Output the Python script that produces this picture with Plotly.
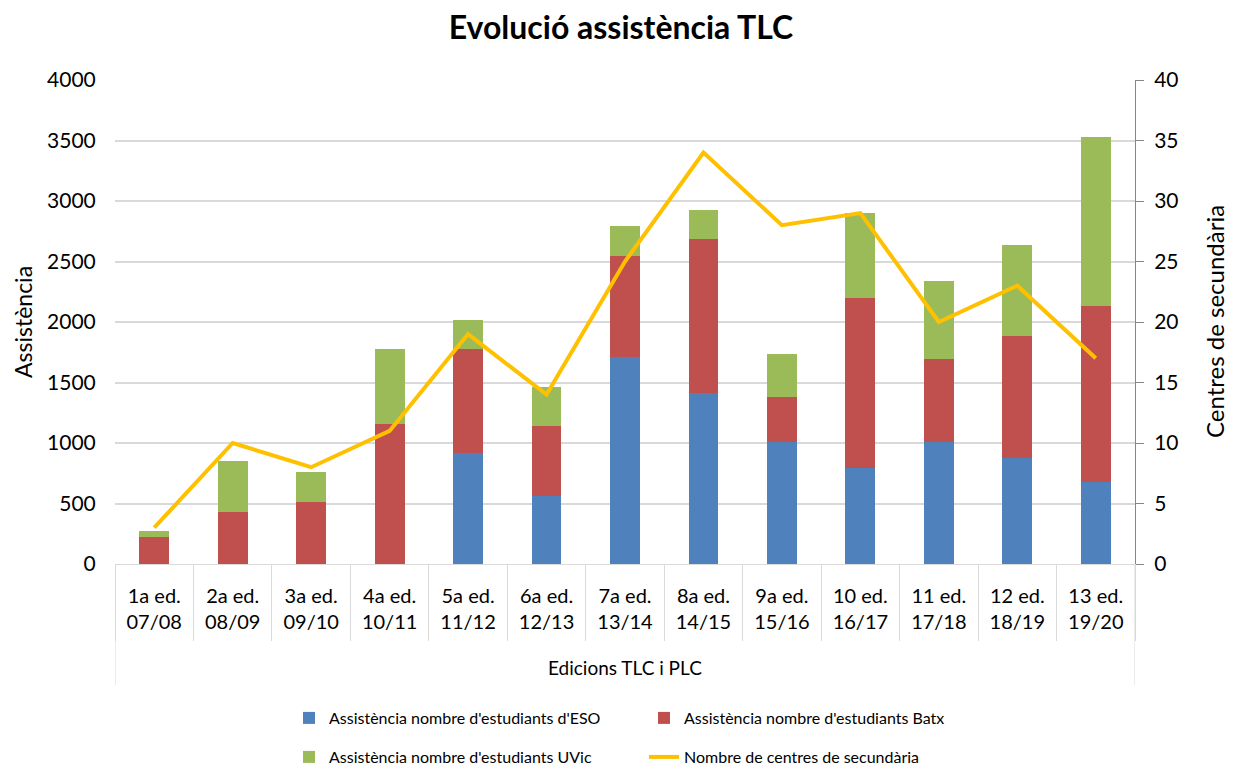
import plotly.graph_objects as go

categories = ["1a ed.<br>07/08", "2a ed.<br>08/09", "3a ed.<br>09/10", "4a ed.<br>10/11",
              "5a ed.<br>11/12", "6a ed.<br>12/13", "7a ed.<br>13/14", "8a ed.<br>14/15",
              "9a ed.<br>15/16", "10 ed.<br>16/17", "11 ed.<br>17/18", "12 ed.<br>18/19",
              "13 ed.<br>19/20"]
eso = [0, 0, 0, 0, 920, 565, 1710, 1410, 1010, 790, 1010, 880, 675]
batx = [225, 430, 515, 1160, 855, 575, 835, 1275, 370, 1410, 685, 1005, 1455]
uvic = [50, 420, 245, 615, 245, 325, 245, 240, 355, 705, 640, 755, 1395]
centres = [3, 10, 8, 11, 19, 14, 25, 34, 28, 29, 20, 23, 17]

names = ["Assistència nombre d'estudiants d'ESO", "Assistència nombre d'estudiants Batx",
         "Assistència nombre d'estudiants UVic", "Nombre de centres de secundària"]
colors = ["#4F81BD", "#C0504D", "#9BBB59", "#FFC000"]
legend_ids = ["legend", "legend", "legend2", "legend2"]

FONT = "Lato"
fig = go.Figure()
for vals, nm, col, lg in zip([eso, batx, uvic], names[:3], colors[:3], legend_ids[:3]):
    fig.add_trace(go.Bar(x=categories, y=vals, name=nm, marker_color=col,
                         marker_line_width=0, yaxis="y", legend=lg))
fig.add_trace(go.Scatter(x=categories, y=centres, name=names[3], mode="lines",
                         line=dict(color=colors[3], width=4), yaxis="y2",
                         legend=legend_ids[3]))

# page body has an 8px margin, so the figure is sized to fit the window
W, H = 1226, 775
L, R, T, B = 107, 99, 72, 219
pw, ph = W - L - R, H - T - B


def px(xf):
    return (xf - L) / pw


def py(yf):
    return (T + ph - yf) / ph


leg_common = dict(orientation="h", x=px(281), xanchor="left", yanchor="middle",
                  entrywidth=310, entrywidthmode="pixels",
                  font=dict(size=16, family=FONT), traceorder="normal",
                  bgcolor="rgba(0,0,0,0)")

fig.update_layout(
    width=W, height=H,
    margin=dict(l=L, r=R, t=T, b=B, autoexpand=False),
    barmode="stack", bargap=0.62,
    plot_bgcolor="white", paper_bgcolor="white",
    font=dict(family=FONT, color="#000000"),
    title=dict(text="<b>Evolució assistència TLC</b>", x=0.5, xanchor="center",
               y=1 - 20 / H, yanchor="middle", font=dict(size=32, family=FONT)),
    xaxis=dict(type="category", showline=True, linecolor="#D9D9D9", linewidth=1,
               ticks="outside", tickson="boundaries", ticklen=76, tickcolor="#D9D9D9",
               ticklabelstandoff=14, tickfont=dict(size=20, family=FONT),
               showgrid=False, range=[-0.5, 12.5]),
    yaxis=dict(range=[0, 4000], dtick=500, showgrid=True, gridcolor="#D9D9D9",
               gridwidth=1.5, zeroline=False, showline=False, ticks="outside",
               ticklen=14, tickcolor="rgba(0,0,0,0)", tickfont=dict(size=21, family=FONT)),
    yaxis2=dict(range=[0, 40], dtick=5, overlaying="y", side="right", showgrid=False,
                zeroline=False, showline=True, linecolor="#868686", linewidth=1,
                ticks="outside", ticklen=8, tickcolor="#868686",
                ticklabelstandoff=6, tickfont=dict(size=21, family=FONT)),
    legend=dict(y=py(710), **leg_common),
    legend2=dict(y=py(749), **leg_common),
    showlegend=True,
)

fig.add_annotation(text="Assistència", xref="paper", yref="paper", x=px(15), y=0.5,
                   textangle=-90, showarrow=False, xanchor="center", yanchor="middle",
                   font=dict(size=23, family=FONT))
fig.add_annotation(text="Centres de secundària", xref="paper", yref="paper", x=px(1206),
                   y=0.5, textangle=-90, showarrow=False, xanchor="center",
                   yanchor="middle", font=dict(size=24, family=FONT))
fig.add_annotation(text="Edicions TLC i PLC", xref="paper", yref="paper", x=0.5,
                   y=py(659), showarrow=False, yanchor="middle",
                   font=dict(size=19, family=FONT))
for xb in [-0.5, 12.5]:
    fig.add_shape(type="line", xref="x", yref="paper", x0=xb, x1=xb, y0=0,
                  y1=py(677), line=dict(color="#D9D9D9", width=1))

fig.write_html("out.html")
